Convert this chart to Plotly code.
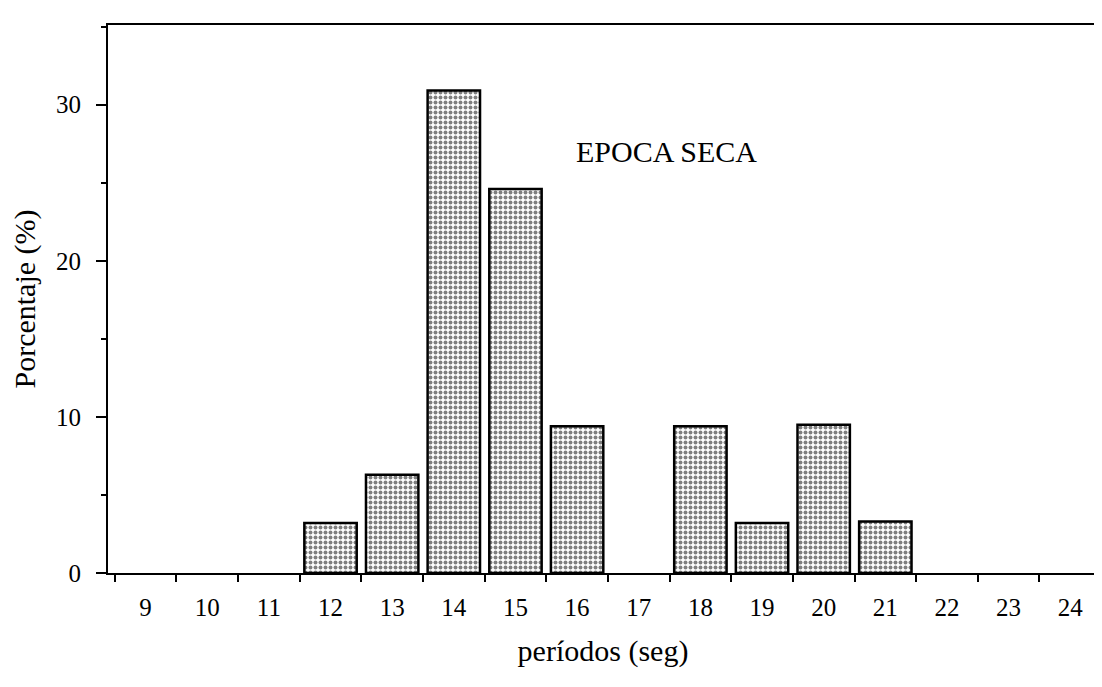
import plotly.graph_objects as go

categories = ["9", "10", "11", "12", "13", "14", "15", "16", "17", "18", "19", "20", "21", "22", "23", "24"]
percent = [0, 0, 0, 3.2, 6.3, 30.9, 24.6, 9.4, 0, 9.4, 3.2, 9.5, 3.3, 0, 0, 0]
y_ticks = [0, 10, 20, 30]

serif = "Liberation Serif, Times New Roman, serif"

fig = go.Figure()
fig.add_trace(go.Bar(
    x=categories,
    y=percent,
    marker=dict(
        color="white",
        line=dict(color="black", width=[2.5 if v > 0 else 0 for v in percent]),
        pattern=dict(shape=".", fgcolor="black", bgcolor="white", size=5, solidity=0.5),
    ),
    width=0.85,
    showlegend=False,
))

fig.add_annotation(
    x=8.45, y=27, xref="x", yref="y",
    text="EPOCA SECA", showarrow=False,
    font=dict(family=serif, size=30, color="black"),
)

fig.update_layout(
    width=1094, height=679,
    margin=dict(l=100, r=4, t=17, b=114, autoexpand=False),
    paper_bgcolor="white", plot_bgcolor="white",
    font=dict(family=serif, color="black"),
)

fig.update_xaxes(
    type="category",
    range=[-0.61, 15.45],
    showline=True, linecolor="black", linewidth=2, mirror=True,
    ticks="outside", tickson="boundaries", ticklen=7, tickwidth=2, tickcolor="black",
    tickfont=dict(family=serif, size=25),
    ticklabelstandoff=11,
    showgrid=False, zeroline=False,
    title=dict(text="períodos (seg)", font=dict(family=serif, size=30), standoff=20),
)

fig.update_yaxes(
    range=[0, 35.1],
    tickvals=y_ticks,
    showline=True, linecolor="black", linewidth=2, mirror=True,
    ticks="outside", ticklen=10, tickwidth=2, tickcolor="black",
    minor=dict(ticks="outside", dtick=5, ticklen=5, tickwidth=2, tickcolor="black"),
    tickfont=dict(family=serif, size=25),
    ticklabelstandoff=10,
    showgrid=False, zeroline=False,
    title=dict(text="Porcentaje (%)", font=dict(family=serif, size=30), standoff=18),
)

fig.write_html("out.html")
